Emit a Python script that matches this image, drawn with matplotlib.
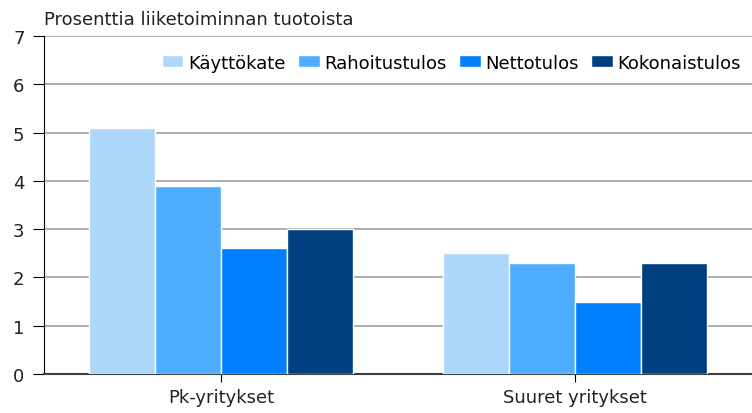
import matplotlib
matplotlib.use('Agg')
import matplotlib.pyplot as plt
import numpy as np

categories = ['Pk-yritykset', 'Suuret yritykset']
series = ['Käyttökate', 'Rahoitustulos', 'Nettotulos', 'Kokonaistulos']
kayttokate = [5.1, 2.5]
rahoitustulos = [3.9, 2.3]
nettotulos = [2.6, 1.5]
kokonaistulos = [3.0, 2.3]
colors = ['#aed8fb', '#4eadfe', '#0080ff', '#003f7f']

values = [kayttokate, rahoitustulos, nettotulos, kokonaistulos]

plt.rcParams['font.family'] = ['DejaVu Sans']
fig = plt.figure(figsize=(7.52, 4.14), dpi=100)
ax = fig.add_axes([44/752, 39/414, 708/752, 338/414])

x = np.arange(len(categories))
w = 0.187
for i, (name, vals) in enumerate(zip(series, values)):
    ax.bar(x + (i - 1.5) * w, vals, w, color=colors[i], edgecolor='white',
           linewidth=1, label=name, zorder=3)

ax.set_xlim(-0.5, 1.5)
ax.set_ylim(0, 7)
ax.set_yticks(range(0, 8))
ax.set_xticks(x)
ax.set_xticklabels(categories)
ax.yaxis.grid(True, color='#a0a0a0', linewidth=1.2, zorder=0)
ax.set_axisbelow(True)
for s in ['top', 'right']:
    ax.spines[s].set_visible(False)
ax.spines['left'].set_color('black')
ax.spines['bottom'].set_color('#404040')
ax.spines['bottom'].set_linewidth(1.5)
ax.tick_params(axis='y', length=8, labelsize=13, pad=6, colors='black')
ax.tick_params(axis='x', length=6, labelsize=13, pad=4, colors='black')
ax.tick_params(axis='both', labelcolor='#222222')

ax.text(0, 1.025, 'Prosenttia liiketoiminnan tuotoista', transform=ax.transAxes,
        fontsize=13, color='#222222', ha='left', va='bottom')

ax.legend(loc='upper right', bbox_to_anchor=(1.0, 0.98), ncol=4, frameon=False,
          fontsize=13, handlelength=1.2, handleheight=0.6, handletextpad=0.25,
          columnspacing=0.7, borderaxespad=0.2)

fig.savefig('out.png', dpi=100)
